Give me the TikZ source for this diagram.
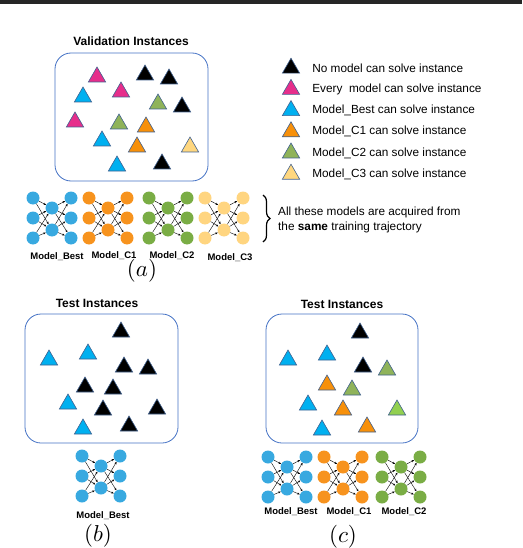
\documentclass[tikz,border=0pt]{standalone}
\usepackage{fontspec}
\setmainfont{Liberation Sans}
\usetikzlibrary{positioning,arrows.meta,shapes.geometric,decorations.pathreplacing}

\definecolor{triedge}{HTML}{41618F}
\definecolor{tpink}{HTML}{E62E8B}
\definecolor{tblue}{HTML}{00B0F0}
\definecolor{torange}{HTML}{F7900A}
\definecolor{tgreen}{HTML}{8FB35A}
\definecolor{tlime}{HTML}{92D050}
\definecolor{tyellow}{HTML}{FFD77F}
\definecolor{nblue}{HTML}{38A9E0}
\definecolor{norange}{HTML}{F7931E}
\definecolor{ngreen}{HTML}{7AAD45}
\definecolor{nyellow}{HTML}{FFD580}
\definecolor{boxblue}{HTML}{4472C4}

\tikzset{
    >=Stealth,
    tri/.style = {draw=triedge, line width=0.6pt, regular polygon, regular polygon sides=3,
                  minimum size=20pt, inner sep=0pt},
    unit/.style = {circle, minimum size=13pt, inner sep=0pt},
    link/.style = {-{Stealth[length=2.6pt,width=2.2pt]}, line width=0.4pt},
    instbox/.style = {draw=boxblue, line width=0.8pt, rounded corners=16pt},
    heading/.style = {font=\bfseries\fontsize{12}{14}\selectfont},
    legtext/.style = {inner sep=0pt, font=\fontsize{11.8}{14}\selectfont},
    netname/.style = {font=\bfseries\fontsize{9.5}{11}\selectfont},
}

% small two-layer network: name, x, y, colour
\newcommand\netfig[4]{%
    \foreach \r/\dy in {1/-20,2/0,3/20} {
        \node[unit, fill=#4] (#1-l\r) at ({#2-19},{#3+(\dy)}) {};
        \node[unit, fill=#4] (#1-r\r) at ({#2+19},{#3+(\dy)}) {};
    }
    \foreach \m/\dy in {1/-10,2/12}
        \node[unit, fill=#4] (#1-m\m) at ({#2},{#3+(\dy)}) {};
    \foreach \i in {1,2,3} \foreach \j in {1,2} {
        \draw[link] (#1-l\i) -- (#1-m\j);
        \draw[link] (#1-m\j) -- (#1-r\i);
    }
}
% sub-figure letter
\newcommand\subtag[1]{\scalebox{2.3}{$(#1)$}}

\begin{document}
\begin{tikzpicture}[x=1pt, y=-1pt]
    \path[use as bounding box] (0,0) rectangle (522,548);
    \draw[line width=3.4pt, black!85] (0,2) -- (522,2);

    % (a) validation instances
    \node[heading] (valtitle) at (131,41) {Validation Instances};
    \draw[instbox] (55,53) rectangle (208,181);
    \foreach \x/\y/\c [count=\k] in {97/77/tpink, 145/75/black, 169/79/black, 83/97/tblue,
            121/92/tpink, 158/104/tgreen, 182/107/black, 75/122/tpink, 119/124/tgreen,
            146/127/torange, 102/141/tblue, 137/147/torange, 190/147/tyellow,
            117/166/tblue, 162/164/black}
        \node[tri, fill=\c] (va\k) at (\x,\y) {};

    % legend
    \foreach \c/\t [count=\k] in {black/No model can solve instance,
            tpink/Every\ \ model can solve instance,
            tblue/Model\_Best can solve instance,
            torange/Model\_C1 can solve instance,
            tgreen/Model\_C2 can solve instance,
            tyellow/Model\_C3 can solve instance} {
        \node[tri, fill=\c] (key\k) at (291,{47+21.2*\k}) {};
        \node[legtext, right=15pt of key\k] (keytext\k) {\t};
    }

    \netfig{abest}{52}{218}{nblue}
    \netfig{ac1}{108}{218}{norange}
    \netfig{ac2}{168}{218}{ngreen}
    \netfig{ac3}{224}{218}{nyellow}
    \node[netname] (abestname) at (57,257) {Model\_Best};
    \node[netname] (ac1name) at (114,256) {Model\_C1};
    \node[netname] (ac2name) at (172,256) {Model\_C2};
    \node[netname] (ac3name) at (230,258) {Model\_C3};

    \coordinate (bracetop) at (263,195);
    \coordinate (bracebot) at (263,242);
    \draw[line width=1.2pt, decorate, decoration={brace, amplitude=7pt}] (bracetop) -- (bracebot);
    \node[legtext, anchor=west, align=left, font=\fontsize{11.8}{15}\selectfont] (note) at (278,219.5)
        {All these models are acquired from\\the \textbf{same} training trajectory};
    \node (suba) at (142,271) {\subtag{a}};

    % (b) test instances, one model
    \node[heading] (btitle) at (97,303) {Test Instances};
    \draw[instbox] (25,314) rectangle (178,443);
    \foreach \x/\y/\c [count=\k] in {121/332/black, 49/360/tblue, 88/354/tblue, 124/367/black,
            148/369/black, 85/387/black, 113/389/black, 68/404/tblue, 103/410/black,
            157/409/black, 83/429/tblue, 129/426/black}
        \node[tri, fill=\c] (tb\k) at (\x,\y) {};
    \netfig{bbest}{101}{476}{nblue}
    \node[netname] (bbestname) at (103,516) {Model\_Best};
    \node (subb) at (98,536) {\subtag{b}};

    % (c) test instances, three models
    \node[heading] (ctitle) at (342,304) {Test Instances};
    \draw[instbox] (266,314) rectangle (418,443);
    \foreach \x/\y/\c [count=\k] in {360/333/black, 288/360/tblue, 327/355/tblue, 363/367/black,
            387/370/tgreen, 327/385/torange, 352/390/tgreen, 308/405/tblue, 343/410/torange,
            397/410/tlime, 322/430/tblue, 367/427/torange}
        \node[tri, fill=\c] (tc\k) at (\x,\y) {};
    \netfig{cbest}{287}{477}{nblue}
    \netfig{cc1}{343}{477}{norange}
    \netfig{cc2}{401}{477}{ngreen}
    \node[netname] (cbestname) at (291,512) {Model\_Best};
    \node[netname] (cc1name) at (349,512) {Model\_C1};
    \node[netname] (cc2name) at (404,512) {Model\_C2};
    \node (subc) at (343,537) {\subtag{c}};
\end{tikzpicture}
\end{document}
